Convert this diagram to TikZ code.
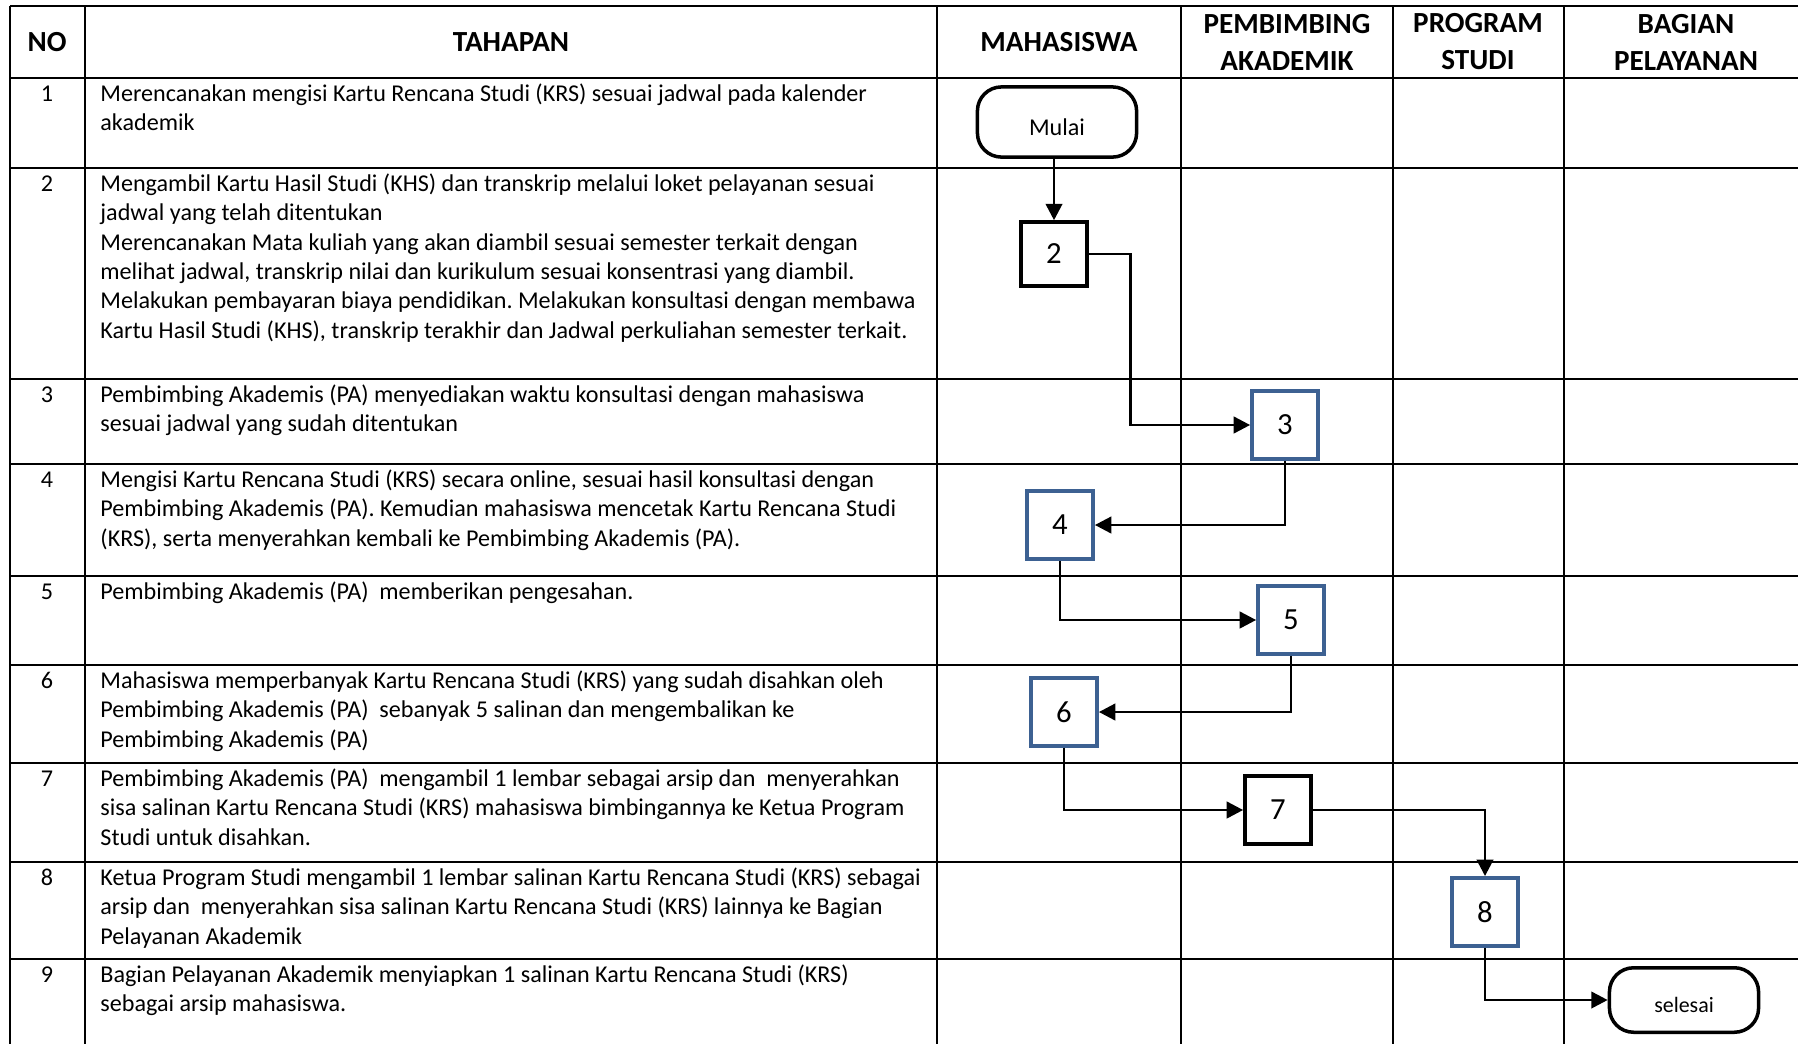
\documentclass[tikz,border=0pt]{standalone}
\usepackage{fontspec}
\setmainfont{Carlito}
\usetikzlibrary{arrows.meta}
\definecolor{boxblue}{HTML}{3D6192}
\frenchspacing

\begin{document}
\begin{tikzpicture}[x=0.456pt,y=-0.456pt,
	grid/.style={line width=1.2pt},
	head/.style={font=\fontsize{13.3}{16.9}\selectfont\bfseries,align=center,inner sep=0},
	txt/.style={font=\fontsize{11}{13.4}\selectfont,align=left,anchor=north west,inner sep=0},
	nr/.style={font=\fontsize{11}{13.4}\selectfont,anchor=north,inner sep=0},
	stepbox/.style={draw,line width=1.8pt,minimum width=30pt,minimum height=31pt,inner sep=0,font=\fontsize{14}{16}\selectfont},
	bluebox/.style={stepbox,draw=boxblue},
	term/.style={draw,line width=1.6pt,rounded corners=11pt,inner sep=0,font=\fontsize{11}{13.4}\selectfont},
	flow/.style={line width=1.3pt,-{Triangle[length=7.5pt,width=7.5pt]}}]
	\useasboundingbox (0,0) rectangle (1798,1044);
	\draw[grid] (10,6) -- (1798,6) (10,78) -- (1798,78) (10,168) -- (1798,168)
		(10,379) -- (1798,379) (10,464) -- (1798,464) (10,576) -- (1798,576)
		(10,665) -- (1798,665) (10,763) -- (1798,763) (10,862) -- (1798,862)
		(10,959) -- (1798,959);
	\draw[grid] (10,6) -- (10,1044) (85,6) -- (85,1044) (937,6) -- (937,1044)
		(1181,6) -- (1181,1044) (1393,6) -- (1393,1044) (1564,6) -- (1564,1044);
	\node[head] (hno) at (47,42) {NO};
	\node[head] (htahapan) at (511,42) {TAHAPAN};
	\node[head] (hmhs) at (1059,42) {MAHASISWA};
	\node[head] (hpa) at (1287,42) {PEMBIMBING\\AKADEMIK};
	\node[head] (hps) at (1478,42) {PROGRAM\\STUDI};
	\node[head] (hbp) at (1686,42) {BAGIAN\\PELAYANAN};
	\node[nr] (n1) at (47,80.4) {\strut 1};
	\node[txt] (t1) at (100,80.4) {\strut Merencanakan mengisi Kartu Rencana Studi (KRS) sesuai jadwal pada kalender\\akademik};
	\node[nr] (n2) at (47,170.4) {\strut 2};
	\node[txt] (t2) at (100,170.4) {\strut Mengambil Kartu Hasil Studi (KHS) dan transkrip melalui loket pelayanan sesuai\\jadwal yang telah ditentukan\\Merencanakan Mata kuliah yang akan diambil sesuai semester terkait dengan\\melihat jadwal, transkrip nilai dan kurikulum sesuai konsentrasi yang diambil.\\Melakukan pembayaran biaya pendidikan. Melakukan konsultasi dengan membawa\\Kartu Hasil Studi (KHS), transkrip terakhir dan Jadwal perkuliahan semester terkait.};
	\node[nr] (n3) at (47,381.4) {\strut 3};
	\node[txt] (t3) at (100,381.4) {\strut Pembimbing Akademis (PA) menyediakan waktu konsultasi dengan mahasiswa\\sesuai jadwal yang sudah ditentukan};
	\node[nr] (n4) at (47,466.4) {\strut 4};
	\node[txt] (t4) at (100,466.4) {\strut Mengisi Kartu Rencana Studi (KRS) secara online, sesuai hasil konsultasi dengan\\Pembimbing Akademis (PA). Kemudian mahasiswa mencetak Kartu Rencana Studi\\(KRS), serta menyerahkan kembali ke Pembimbing Akademis (PA).};
	\node[nr] (n5) at (47,578.4) {\strut 5};
	\node[txt] (t5) at (100,578.4) {\strut Pembimbing Akademis (PA)~ memberikan pengesahan.};
	\node[nr] (n6) at (47,667.4) {\strut 6};
	\node[txt] (t6) at (100,667.4) {\strut Mahasiswa memperbanyak Kartu Rencana Studi (KRS) yang sudah disahkan oleh\\Pembimbing Akademis (PA)~ sebanyak 5 salinan dan mengembalikan ke\\Pembimbing Akademis (PA)};
	\node[nr] (n7) at (47,765.4) {\strut 7};
	\node[txt] (t7) at (100,765.4) {\strut Pembimbing Akademis (PA)~ mengambil 1 lembar sebagai arsip dan~ menyerahkan\\sisa salinan Kartu Rencana Studi (KRS) mahasiswa bimbingannya ke Ketua Program\\Studi untuk disahkan.};
	\node[nr] (n8) at (47,864.4) {\strut 8};
	\node[txt] (t8) at (100,864.4) {\strut Ketua Program Studi mengambil 1 lembar salinan Kartu Rencana Studi (KRS) sebagai\\arsip dan~ menyerahkan sisa salinan Kartu Rencana Studi (KRS) lainnya ke Bagian\\Pelayanan Akademik};
	\node[nr] (n9) at (47,961.4) {\strut 9};
	\node[txt] (t9) at (100,961.4) {\strut Bagian Pelayanan Akademik menyiapkan 1 salinan Kartu Rencana Studi (KRS)\\sebagai arsip mahasiswa.};
	\node[term,minimum width=72.6pt,minimum height=32pt,text height=12.3pt,text depth=0pt] (mulai) at (1057,122) {Mulai};
	\node[stepbox,minimum height=29pt] (2) at (1054,254) {2};
	\node[bluebox] (3) at (1285,425) {3};
	\node[bluebox] (4) at (1060,525) {4};
	\node[bluebox] (5) at (1291,620) {5};
	\node[bluebox] (6) at (1064,712) {6};
	\node[stepbox] (7) at (1278,810) {7};
	\node[bluebox] (8) at (1485,912) {8};
	\node[term,minimum width=68pt,minimum height=29.4pt,text height=11pt,text depth=0pt,font=\fontsize{10}{12}\selectfont] (selesai) at (1684,1000) {selesai};
	\draw[flow] (mulai.south -| 2.north) -- (2.north);
	\draw[flow] (2.east) -- ++(42,0) |- (3.west);
	\draw[flow] (3.south) |- (4.east);
	\draw[flow] (4.south) |- (5.west);
	\draw[flow] (5.south) |- (6.east);
	\draw[flow] (6.south) |- (7.west);
	\draw[flow] (7.east) -| (8.north);
	\draw[flow] (8.south) |- (selesai.west);
\end{tikzpicture}
\end{document}
